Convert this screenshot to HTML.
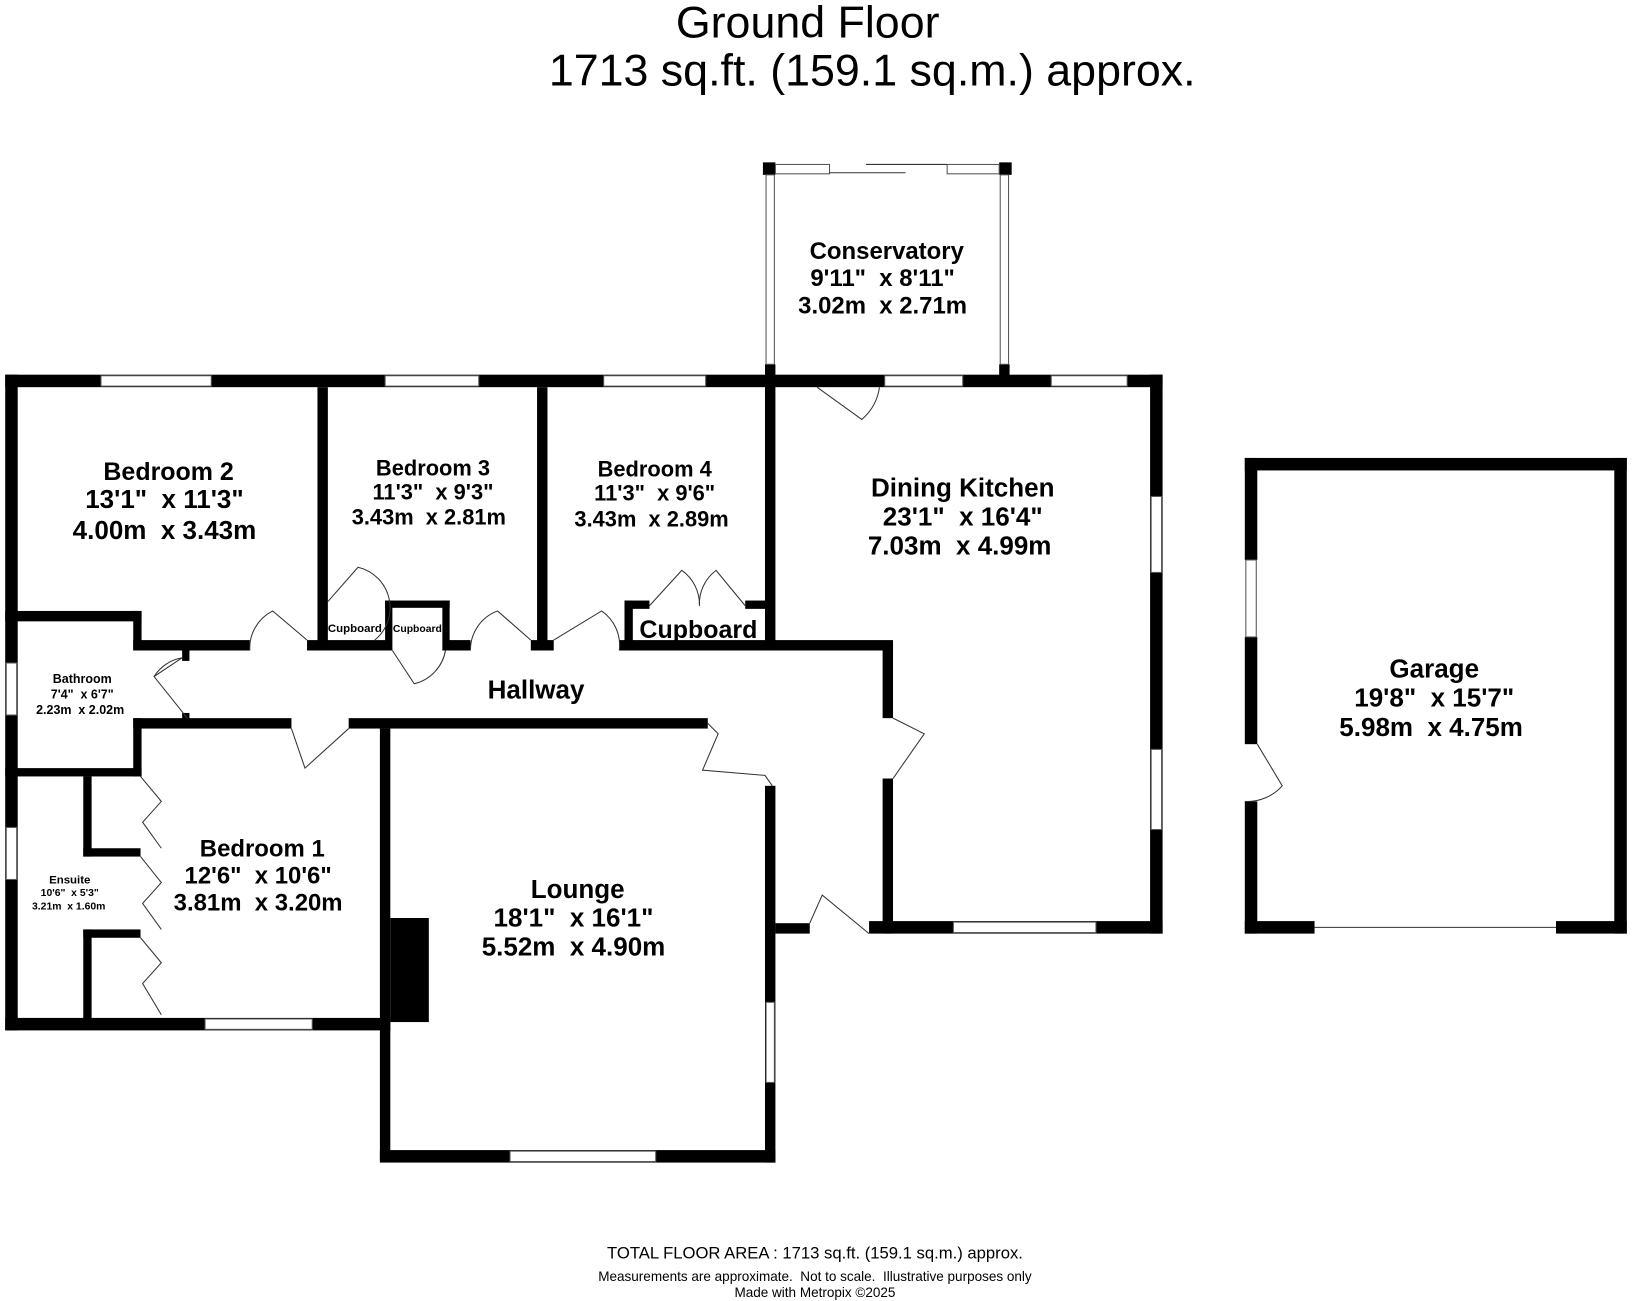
<!DOCTYPE html>
<html><head><meta charset="utf-8"><style>
html,body{margin:0;padding:0;background:#fff}
svg{display:block}
text{font-family:"Liberation Sans",Arial,sans-serif;text-anchor:middle;fill:#000;white-space:pre}
.b{font-weight:bold}
</style></head><body>
<svg width="1632" height="1301" viewBox="0 0 1568 1250" xmlns="http://www.w3.org/2000/svg" xml:space="preserve">
<rect width="1568" height="1250" fill="#fff"/>
<text x="776" y="36" font-size="43">Ground Floor</text>
<text x="838" y="82" font-size="43">1713 sq.ft. (159.1 sq.m.) approx.</text>

<g fill="#000">
<rect x="5" y="360" width="740" height="12"/>
<rect x="5" y="360" width="12" height="630"/>
<rect x="305" y="372" width="10" height="253"/>
<rect x="516" y="372" width="10" height="253"/>
<rect x="735" y="360" width="10" height="265"/>
<rect x="740" y="360" width="377" height="12"/>
<rect x="1105" y="360" width="12" height="537"/>
<rect x="835" y="885" width="282" height="12"/>
<rect x="848" y="620" width="10" height="70"/>
<rect x="848" y="748" width="10" height="149"/>
<rect x="733" y="156" width="12" height="12"/>
<rect x="960" y="156" width="12" height="12"/>
<rect x="735" y="350" width="10" height="12"/>
<rect x="960" y="350" width="10" height="12"/>
<rect x="128" y="615" width="112" height="10"/>
<rect x="295" y="615" width="80" height="10"/>
<rect x="428" y="615" width="24" height="10"/>
<rect x="510" y="615" width="22" height="10"/>
<rect x="595" y="615" width="263" height="10"/>
<rect x="5" y="587" width="131" height="10"/>
<rect x="128" y="587" width="8" height="38"/>
<rect x="5" y="738" width="131" height="8"/>
<rect x="128" y="690" width="8" height="56"/>
<rect x="175" y="625" width="7" height="10"/>
<rect x="175" y="685" width="7" height="10"/>
<rect x="128" y="690" width="152" height="10"/>
<rect x="335" y="690" width="345" height="10"/>
<rect x="80" y="746" width="8" height="77"/>
<rect x="80" y="893" width="8" height="90"/>
<rect x="80" y="815" width="55" height="8"/>
<rect x="80" y="893" width="55" height="8"/>
<rect x="5" y="978" width="370" height="12"/>
<rect x="365" y="700" width="10" height="415"/>
<rect x="365" y="1105" width="380" height="12"/>
<rect x="735" y="755" width="10" height="362"/>
<rect x="375" y="882" width="37" height="100"/>
<rect x="745" y="887" width="33" height="10"/>
<rect x="370" y="577" width="62" height="7"/>
<rect x="370" y="577" width="7" height="48"/>
<rect x="425" y="577" width="7" height="48"/>
<rect x="600" y="577" width="24" height="8"/>
<rect x="600" y="577" width="8" height="48"/>
<rect x="716" y="577" width="24" height="8"/>
<rect x="1196" y="440" width="367" height="12"/>
<rect x="1551" y="440" width="12" height="457"/>
<rect x="1196" y="440" width="12" height="98"/>
<rect x="1196" y="612" width="12" height="103"/>
<rect x="1196" y="770" width="12" height="127"/>
<rect x="1196" y="885" width="67" height="12"/>
<rect x="1495" y="885" width="68" height="12"/>
</g>

<g fill="#fff" stroke="#555" stroke-width="1">
<rect x="97" y="361" width="106" height="10"/>
<rect x="370" y="361" width="90" height="10"/>
<rect x="580" y="361" width="98" height="10"/>
<rect x="850" y="361" width="75" height="10"/>
<rect x="1010" y="361" width="73" height="10"/>
<rect x="1106" y="477" width="10" height="73"/>
<rect x="1106" y="720" width="10" height="77"/>
<rect x="916" y="886" width="137" height="10"/>
<rect x="6" y="637" width="10" height="50"/>
<rect x="6" y="795" width="10" height="50"/>
<rect x="197" y="979" width="103" height="10"/>
<rect x="490" y="1106" width="140" height="10"/>
<rect x="736" y="963" width="8" height="77"/>
<rect x="1197" y="538" width="10" height="74"/>
<rect x="736" y="168" width="8" height="182"/>
<rect x="961" y="168" width="8" height="182"/>
<rect x="745" y="158" width="52" height="9"/>
<rect x="910" y="158" width="50" height="9"/>
</g>
<g stroke="#333" stroke-width="1" fill="none">
<line x1="832" y1="158" x2="910" y2="158"/>
<line x1="797" y1="166" x2="870" y2="166"/>
<line x1="1263" y1="891" x2="1495" y2="891"/>
<path d="M785 372 L828 403 A50 50 0 0 0 845 372"/>
<path d="M295 615 L262 587 A40 40 0 0 0 240 625"/>
<path d="M315 578 L344 545 A40 40 0 0 1 360 615"/>
<path d="M377 625 L398 657 A40 40 0 0 0 428 625"/>
<path d="M510 615 L478 587 A40 40 0 0 0 452 625"/>
<path d="M532 615 L578 587 A40 40 0 0 1 595 625"/>
<path d="M624 582 L655 548 A40 40 0 0 1 672 582"/>
<path d="M716 582 L688 548 A40 40 0 0 0 672 582"/>
<path d="M175 632 L148 650 L180 690"/>
<path d="M148 650 A40 40 0 0 1 175 632"/>
<path d="M280 700 L293 738 L335 700"/>
<path d="M135 746 L155 770 L137 790 L155 815"/>
<path d="M135 823 L155 848 L137 868 L155 893"/>
<path d="M135 901 L155 925 L137 945 L155 975"/>
<path d="M680 695 L690 705 L675 740 L735 745 L742 755"/>
<path d="M858 690 L888 705 L858 748"/>
<path d="M778 887 L790 860 L835 897"/>
<path d="M1208 715 L1232 755 A45 45 0 0 1 1196 770"/>
</g>

<g class="b">
<text x="162" y="461" font-size="24">Bedroom 2</text>
<text x="158" y="488" font-size="25">13'1"  x 11'3"</text>
<text x="158" y="518" font-size="25">4.00m  x 3.43m</text>
<text x="416" y="457" font-size="21">Bedroom 3</text>
<text x="416" y="480" font-size="21">11'3"  x 9'3"</text>
<text x="412" y="504" font-size="21">3.43m  x 2.81m</text>
<text x="629" y="458" font-size="21">Bedroom 4</text>
<text x="629" y="481" font-size="21">11'3"  x 9'6"</text>
<text x="626" y="506" font-size="21">3.43m  x 2.89m</text>
<text x="925" y="477" font-size="25">Dining Kitchen</text>
<text x="925" y="505" font-size="25">23'1"  x 16'4"</text>
<text x="922" y="533" font-size="25">7.03m  x 4.99m</text>
<text x="852" y="249" font-size="23">Conservatory</text>
<text x="848" y="275" font-size="23">9'11"  x 8'11"</text>
<text x="848" y="301" font-size="23">3.02m  x 2.71m</text>
<text x="1378" y="651" font-size="25">Garage</text>
<text x="1378" y="679" font-size="25">19'8"  x 15'7"</text>
<text x="1375" y="707" font-size="25">5.98m  x 4.75m</text>
<text x="515" y="671" font-size="25">Hallway</text>
<text x="79" y="656" font-size="12">Bathroom</text>
<text x="79" y="671" font-size="12">7'4"  x 6'7"</text>
<text x="77" y="686" font-size="12">2.23m  x 2.02m</text>
<text x="67" y="849" font-size="11">Ensuite</text>
<text x="67" y="861" font-size="10">10'6"  x 5'3"</text>
<text x="66" y="874" font-size="10">3.21m  x 1.60m</text>
<text x="252" y="823" font-size="23">Bedroom 1</text>
<text x="248" y="849" font-size="23">12'6"  x 10'6"</text>
<text x="248" y="875" font-size="23">3.81m  x 3.20m</text>
<text x="555" y="863" font-size="25">Lounge</text>
<text x="551" y="890" font-size="25">18'1"  x 16'1"</text>
<text x="551" y="918" font-size="25">5.52m  x 4.90m</text>
<text x="671" y="613" font-size="24">Cupboard</text>
<text x="341" y="607" font-size="11">Cupboard</text>
<text x="401" y="607" font-size="10">Cupboard</text>
</g>

<text x="783" y="1209" font-size="16">TOTAL FLOOR AREA : 1713 sq.ft. (159.1 sq.m.) approx.</text>
<text x="783" y="1231" font-size="13">Measurements are approximate.  Not to scale.  Illustrative purposes only</text>
<text x="783" y="1246" font-size="13">Made with Metropix ©2025</text>
</svg>
</body></html>
